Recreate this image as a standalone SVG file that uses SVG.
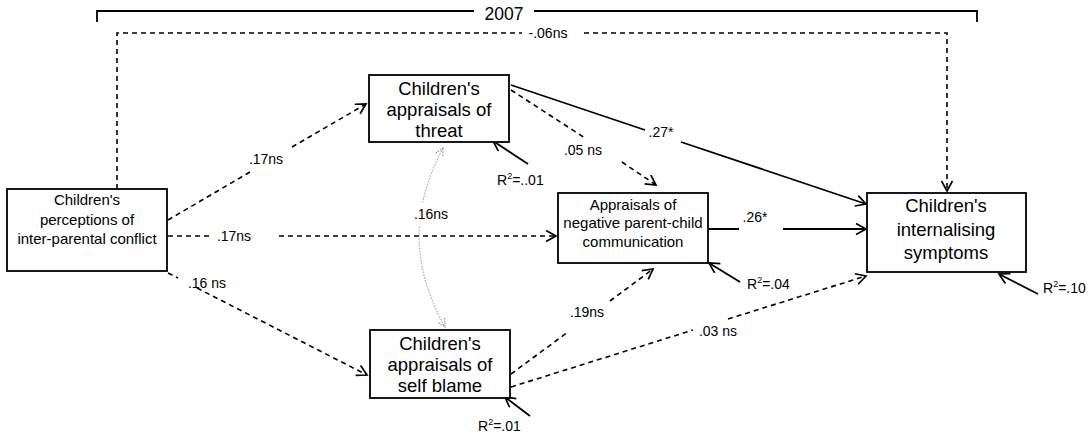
<svg xmlns="http://www.w3.org/2000/svg" width="1092" height="438" viewBox="0 0 1092 438">
  <style>
    .box { fill: #fff; stroke: #000; stroke-width: 1.8; }
    .big { font-family: "Liberation Sans", Arial, sans-serif; font-size: 18.5px; text-anchor: middle; fill: #000; }
    .mid { font-family: "Liberation Sans", Arial, sans-serif; font-size: 15px; text-anchor: middle; fill: #000; }
    .lbl { font-family: "Liberation Sans", Arial, sans-serif; font-size: 14px; fill: #000; }
    .year { font-family: "Liberation Sans", Arial, sans-serif; font-size: 17.5px; text-anchor: middle; fill: #000; }
    .c { text-anchor: middle; }
    .sup { font-size: 9px; }
    .solid { fill: none; stroke: #000; stroke-width: 1.8; }
    .dash { fill: none; stroke: #000; stroke-width: 1.6; stroke-dasharray: 5 4; }
    .dot { fill: none; stroke: #8a8a8a; stroke-width: 1; stroke-dasharray: 1.5 1.5; }
  </style>
  <defs>
    <marker id="head" markerUnits="userSpaceOnUse" markerWidth="14" markerHeight="14" refX="11" refY="6" orient="auto">
      <path d="M1,0.5 L11,6 L1,11.5" fill="none" stroke="#000" stroke-width="1.7" stroke-dasharray="none"/>
    </marker>
    <marker id="headGray" markerUnits="userSpaceOnUse" markerWidth="12" markerHeight="12" refX="9" refY="5" orient="auto-start-reverse">
      <path d="M1,1 L9,5 L1,9" fill="none" stroke="#8a8a8a" stroke-width="1" stroke-dasharray="1.5 1"/>
    </marker>
  </defs>

  <!-- time bracket -->
  <g id="year-bracket">
    <path class="solid" d="M97,22 L97,11 L474,11 M534,11 L977,11 L977,22"/>
    <text class="year" x="504" y="20">2007</text>
  </g>

  <!-- paths -->
  <g id="connectors">
    <!-- direct effect -->
    <path class="dash" d="M117,189 L117,33 L522,33 M584,33 L947,33 L947,191" marker-end="url(#head)"/>
    <text class="lbl c" x="548" y="38">-.06ns</text>

    <!-- conflict to threat -->
    <path class="dash" d="M168,220 L250,172 M292,147 L366,104" marker-end="url(#head)"/>
    <text class="lbl c" x="266" y="164">.17ns</text>

    <!-- conflict to communication -->
    <path class="dash" d="M168,236 L211,236 M279,236 L556,236" marker-end="url(#head)"/>
    <text class="lbl c" x="234" y="241">.17ns</text>

    <!-- conflict to self blame -->
    <path class="dash" d="M168,273 L178,278 M197,288 L367,375" marker-end="url(#head)"/>
    <text class="lbl c" x="207" y="288">.16 ns</text>

    <!-- threat / self blame covariance -->
    <path class="dot" d="M443,148 Q428.3,176.1 422.6,202.3" marker-start="url(#headGray)"/>
    <path class="dot" d="M419.3,226.8 Q416.4,275.7 445,327" marker-end="url(#headGray)"/>
    <text class="lbl c" x="431" y="219">.16ns</text>

    <!-- threat to communication -->
    <path class="dash" d="M511,90 L585,138 M622,162 L656,185" marker-end="url(#head)"/>
    <text class="lbl c" x="583" y="155">.05 ns</text>

    <!-- threat to internalising -->
    <path class="solid" d="M511,85 L645,130 M681,142 L866,204" marker-end="url(#head)"/>
    <text class="lbl c" x="661" y="137">.27*</text>

    <!-- communication to internalising -->
    <path class="solid" d="M708,229 L739,229 M783,229 L866,229" marker-end="url(#head)"/>
    <text class="lbl c" x="755" y="222">.26*</text>

    <!-- self blame to communication -->
    <path class="dash" d="M511,374 L568,332 M610,301 L653,269" marker-end="url(#head)"/>
    <text class="lbl c" x="587" y="317">.19ns</text>

    <!-- self blame to internalising -->
    <path class="dash" d="M511,387 L693,330 M728,319 L866,276" marker-end="url(#head)"/>
    <text class="lbl c" x="718" y="336">.03 ns</text>

    <!-- residuals -->
    <path class="solid" d="M528,164 L493,141" marker-end="url(#head)"/>
    <text class="lbl" x="497" y="185">R<tspan class="sup" dy="-6">2</tspan><tspan dy="6">=..01</tspan></text>

    <path class="solid" d="M740,282 L709,263" marker-end="url(#head)"/>
    <text class="lbl" x="747" y="289">R<tspan class="sup" dy="-6">2</tspan><tspan dy="6">=.04</tspan></text>

    <path class="solid" d="M530,416 L505,397" marker-end="url(#head)"/>
    <text class="lbl" x="478" y="431">R<tspan class="sup" dy="-6">2</tspan><tspan dy="6">=.01</tspan></text>

    <path class="solid" d="M1038,294 L999,274" marker-end="url(#head)"/>
    <text class="lbl" x="1043" y="293">R<tspan class="sup" dy="-6">2</tspan><tspan dy="6">=.10</tspan></text>
  </g>

  <!-- variables -->
  <g id="conflict">
    <rect class="box" x="7" y="189" width="160" height="82"/>
    <text class="mid" x="87" y="205">Children's</text>
    <text class="mid" x="87" y="225">perceptions of</text>
    <text class="mid" x="87" y="244">inter-parental conflict</text>
  </g>

  <g id="threat">
    <rect class="box" x="369" y="75" width="140" height="67"/>
    <text class="big" x="439" y="95">Children's</text>
    <text class="big" x="439" y="116">appraisals of</text>
    <text class="big" x="439" y="137">threat</text>
  </g>

  <g id="selfblame">
    <rect class="box" x="370" y="330" width="140" height="68"/>
    <text class="big" x="440" y="350">Children's</text>
    <text class="big" x="440" y="371">appraisals of</text>
    <text class="big" x="440" y="392">self blame</text>
  </g>

  <g id="communication">
    <rect class="box" x="558" y="193" width="150" height="70"/>
    <text class="mid" x="633" y="210">Appraisals of</text>
    <text class="mid" x="633" y="228">negative parent-child</text>
    <text class="mid" x="633" y="247">communication</text>
  </g>

  <g id="internalising">
    <rect class="box" x="867" y="193" width="159" height="79"/>
    <text class="big" x="946" y="212">Children's</text>
    <text class="big" x="946" y="236">internalising</text>
    <text class="big" x="946" y="259">symptoms</text>
  </g>
</svg>
